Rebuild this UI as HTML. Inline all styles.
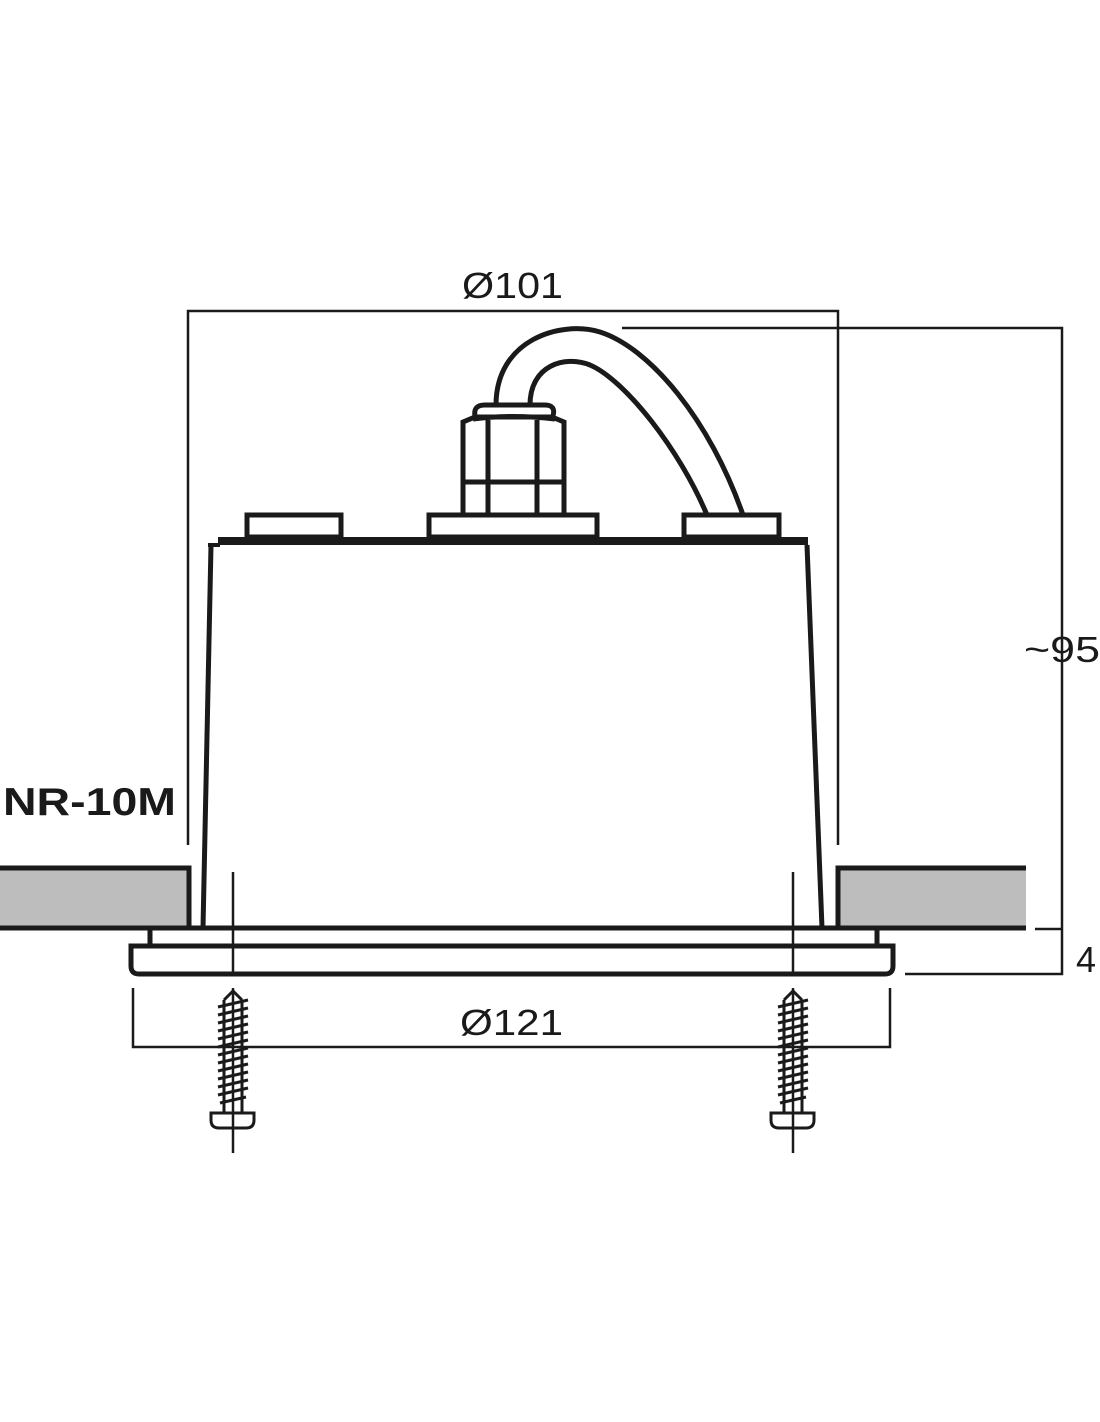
<!DOCTYPE html>
<html><head><meta charset="utf-8"><style>html,body{margin:0;padding:0;background:#fff}svg{display:block}</style></head>
<body>
<svg width="1100" height="1422" viewBox="0 0 1100 1422" xmlns="http://www.w3.org/2000/svg" font-family="Liberation Sans, sans-serif">
<g fill="none" stroke="#1a1a1a" stroke-linecap="butt">
<!-- ceiling slabs -->
<rect x="0" y="868" width="188" height="59" fill="#bdbdbd" stroke="none"/>
<path d="M0 868 H189 V928" stroke-width="5"/>
<rect x="838" y="868" width="188" height="59" fill="#bdbdbd" stroke="none"/>
<path d="M838 928 V868 H1026" stroke-width="5"/>
<path d="M0 928 H1026" stroke-width="5"/>
<!-- body -->
<path d="M211 545 L203 928" stroke-width="5"/>
<path d="M807 545 L822 928" stroke-width="5"/>
<path d="M218 541 H808" stroke-width="8"/>
<path d="M208 545 H220" stroke-width="4"/>
<!-- terminals -->
<rect x="247" y="515" width="94" height="22" stroke-width="5"/>
<rect x="429" y="515" width="168" height="22" stroke-width="5"/>
<rect x="684" y="515" width="95" height="22" stroke-width="5"/>
<!-- nut -->
<path d="M463 515 V422 L475 417 H552 L564 422 V515" stroke-width="5"/>
<path d="M475 416 Q473 405 485 405 H545 Q556 405 553 416" stroke-width="5"/>
<path d="M473 419 Q512 414 555 419" stroke-width="5"/>
<path d="M488 420 V515 M537 420 V515" stroke-width="5"/>
<path d="M463 482 H564" stroke-width="5"/>
<!-- cable -->
<path d="M496 405 C496 340 560 320 600 332 C650 348 710 420 743 515" stroke-width="5"/>
<path d="M530 405 C530 365 565 355 590 365 C625 380 680 450 707 515" stroke-width="5"/>
<!-- flange -->
<path d="M150 928 V946 M877 928 V946" stroke-width="5"/>
<path d="M131 946 H893 V966 Q893 974 885 974 H139 Q131 974 131 966 Z" stroke-width="5"/>
<!-- dimension lines -->
<g stroke-width="2.5">
<path d="M188 845 V311 H838 V845"/>
<path d="M622 328 H1062 V974 H905"/>
<path d="M1035 929 H1062"/>
<path d="M133 988 V1047 H890 V988"/>
<path d="M233 872 V974 M793 872 V974"/>
<path d="M233 988 V1153 M793 988 V1153"/>
</g>
</g>
<!-- screws -->
<g id="screw" fill="none" stroke="#1a1a1a" stroke-width="3">
<path d="M224 1000 L233 991 L242 1000"/>
<path d="M224 1000 V1113 M242 1000 V1113"/>
<path d="M218 1007 L248 1000 M218 1015 L248 1008 M218 1023 L248 1016 M218 1031 L248 1024 M218 1039 L248 1032 M218 1047 L248 1040 M218 1055 L248 1048 M218 1063 L248 1056 M218 1071 L248 1064 M218 1079 L248 1072 M218 1087 L248 1080 M218 1095 L248 1088 M220 1103 L246 1097"/>
<path d="M211 1113 H254 V1120 Q254 1128 246 1128 H219 Q211 1128 211 1120 Z"/>
</g>
<use href="#screw" x="560"/>
<!-- text -->
<g fill="#1a1a1a" font-size="36">
<text x="462" y="298" textLength="101" lengthAdjust="spacingAndGlyphs">Ø101</text>
<text x="1024" y="662" textLength="76" lengthAdjust="spacingAndGlyphs">~95</text>
<text x="1076" y="972">4</text>
<text x="460" y="1035" textLength="103" lengthAdjust="spacingAndGlyphs">Ø121</text>
<text x="3" y="815" font-weight="bold" font-size="39" textLength="173" lengthAdjust="spacingAndGlyphs">NR-10M</text>
</g>
</svg>
</body></html>
